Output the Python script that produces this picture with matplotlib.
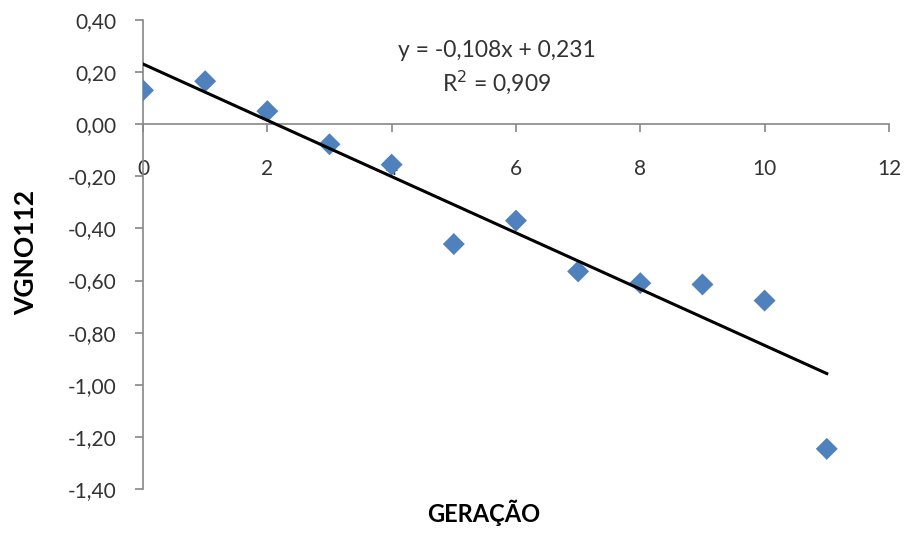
import matplotlib.pyplot as plt
from matplotlib.ticker import FuncFormatter, MultipleLocator

# Geração x VGNO112
geracao = [0, 1, 2, 3, 4, 5, 6, 7, 8, 9, 10, 11]
vgno112 = [0.13, 0.165, 0.05, -0.077, -0.155, -0.46, -0.37, -0.565, -0.61, -0.615, -0.677, -1.246]

# Linha de tendência (coeficientes da equação exibida)
inclinacao = -0.108
intercepto = 0.231
r2 = 0.909


def virgula(v, casas):
    return f"{v:.{casas}f}".replace(".", ",")


plt.rcParams['font.family'] = ['Lato', 'DejaVu Sans']

fig = plt.figure(figsize=(9.08, 5.33), dpi=100)
ax = fig.add_axes([0.1575, 0.0826, 0.8215, 0.8799])

ax.scatter(geracao, vgno112, marker='D', s=125, color='#4F81BD', edgecolors='none', zorder=3)

xs = [geracao[0], geracao[-1]]
ax.plot(xs, [intercepto + inclinacao * x for x in xs], color='black', lw=2.2, zorder=4)

ax.set_xlim(0, 12)
ax.set_ylim(-1.4, 0.4)
ax.xaxis.set_major_locator(MultipleLocator(2))
ax.yaxis.set_major_locator(MultipleLocator(0.2))
ax.yaxis.set_major_formatter(FuncFormatter(lambda v, p: virgula(v, 2)))

# Eixos no estilo do Excel: eixo x cruzando em y = 0
for lado in ['top', 'right']:
    ax.spines[lado].set_visible(False)
ax.spines['bottom'].set_position(('data', 0))
for lado in ['left', 'bottom']:
    ax.spines[lado].set_color('#868686')
    ax.spines[lado].set_linewidth(1.2)

ax.tick_params(axis='both', colors='#868686', labelcolor='#333333', labelsize=15, length=6, width=1.2)
ax.tick_params(axis='x', pad=19)
ax.tick_params(axis='y', pad=13)

eq = f"y = {virgula(inclinacao, 3)}x + {virgula(intercepto, 3)}"
fig.text(0.547, 0.906, eq, ha='center', va='center', fontsize=16.5, color='#333333')
fig.text(0.547, 0.846, f"R$^2$ = {virgula(r2, 3)}", ha='center', va='center', fontsize=16.5, color='#333333')

fig.text(0.533, 0.038, 'GERAÇÃO', ha='center', va='center', fontsize=17, fontweight='bold')
fig.text(0.029, 0.527, 'VGNO112', ha='center', va='center', rotation=90, fontsize=19, fontweight='bold')

fig.savefig('out.png', dpi=100)
